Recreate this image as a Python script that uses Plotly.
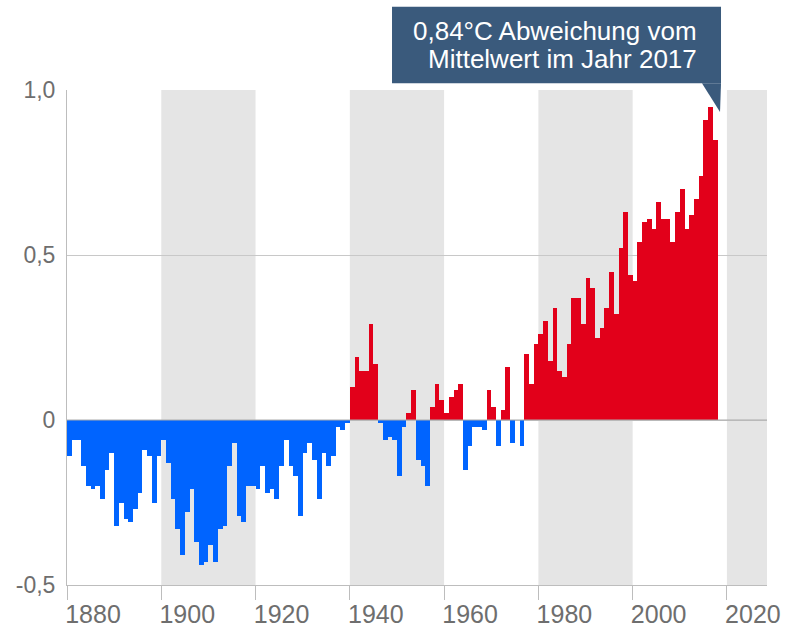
import plotly.graph_objects as go

# ---- data ----
years = list(range(1880, 2018))
anomaly = [
    # 1880-1899
    -0.11, -0.06, -0.06, -0.14, -0.20, -0.21, -0.20, -0.24, -0.15, -0.10,
    -0.32, -0.25, -0.30, -0.31, -0.27, -0.22, -0.09, -0.11, -0.25, -0.11,
    # 1900-1919
    -0.06, -0.13, -0.24, -0.33, -0.41, -0.28, -0.21, -0.37, -0.44, -0.43,
    -0.38, -0.43, -0.33, -0.32, -0.14, -0.07, -0.29, -0.31, -0.20, -0.20,
    # 1920-1939
    -0.21, -0.14, -0.22, -0.21, -0.24, -0.14, -0.06, -0.14, -0.17, -0.29,
    -0.10, -0.07, -0.12, -0.24, -0.10, -0.14, -0.11, -0.02, -0.03, -0.01,
    # 1940-1959
    0.10, 0.19, 0.15, 0.15, 0.29, 0.17, -0.01, -0.06, -0.05, -0.06,
    -0.17, -0.02, 0.02, 0.09, -0.12, -0.14, -0.20, 0.04, 0.11, 0.06,
    # 1960-1979
    0.02, 0.07, 0.09, 0.11, -0.15, -0.08, -0.02, -0.02, -0.03, 0.09,
    0.04, -0.08, 0.03, 0.16, -0.07, 0.00, -0.08, 0.20, 0.11, 0.23,
    # 1980-1999
    0.26, 0.30, 0.18, 0.34, 0.15, 0.13, 0.23, 0.37, 0.37, 0.29,
    0.43, 0.40, 0.25, 0.28, 0.34, 0.45, 0.32, 0.52, 0.63, 0.44,
    # 2000-2017
    0.42, 0.54, 0.60, 0.61, 0.58, 0.66, 0.61, 0.61, 0.54, 0.63,
    0.70, 0.58, 0.62, 0.67, 0.74, 0.91, 0.95, 0.85,
]
band_starts = [1900, 1940, 1980, 2020]
band_ends = [1920, 1960, 2000, 2028.5]
x_tick_vals = [1880, 1900, 1920, 1940, 1960, 1980, 2000, 2020]
y_tick_vals = [-0.5, 0, 0.5, 1.0]
y_tick_text = ["-0,5", "0", "0,5", "1,0"]
callout_lines = ["0,84°C Abweichung vom", "Mittelwert im Jahr 2017"]

# ---- styling ----
BLUE = "#0064ff"
RED = "#e2001a"
BAND = "#e5e5e5"
LINE = "#bdbdbd"
TICKTXT = "#6e6e6e"
BOX = "#3a5a7c"
FONT = "'Liberation Sans', Arial, sans-serif"

colors = [RED if v > 0 else BLUE for v in anomaly]

fig = go.Figure()
fig.add_trace(go.Bar(
    x=years, y=anomaly, width=1, offset=0,
    marker=dict(color=colors, line=dict(width=0)),
    hoverinfo="x+y", showlegend=False,
))

shapes = []
for s, e in zip(band_starts, band_ends):
    shapes.append(dict(type="rect", xref="x", yref="paper", x0=s, x1=e, y0=0, y1=1,
                       fillcolor=BAND, line=dict(width=0), layer="below"))
# zero line above bars
shapes.append(dict(type="line", xref="paper", yref="y", x0=0, x1=1, y0=0, y1=0,
                   line=dict(color="#aaaaaa", width=1), layer="above"))
# callout box and pointer
shapes.append(dict(type="rect", xref="paper", yref="paper",
                   x0=0.4643, x1=0.9343, y0=1.0135, y1=1.1683,
                   fillcolor=BOX, line=dict(width=0), layer="above"))
shapes.append(dict(type="path", xref="paper", yref="paper",
                   path="M 0.9071 1.0136 L 0.9343 1.0136 L 0.9329 0.9556 Z",
                   fillcolor=BOX, line=dict(width=0), layer="above"))

annotations = []
for txt, yp in zip(callout_lines, [1.1192, 1.0626]):
    annotations.append(dict(
        xref="paper", yref="paper", x=0.9029, y=yp,
        xanchor="right", yanchor="middle", align="right",
        text=txt, showarrow=False,
        font=dict(family=FONT, size=26, color="white"),
    ))

fig.update_layout(
    width=786, height=627,
    margin=dict(l=67, r=19, t=90, b=42, pad=0, autoexpand=False),
    plot_bgcolor="white", paper_bgcolor="white",
    bargap=0,
    font=dict(family=FONT),
    shapes=shapes,
    annotations=annotations,
    xaxis=dict(
        range=[1880, 2028.5], tickvals=x_tick_vals,
        showgrid=False, zeroline=False, automargin=False,
        showline=True, linecolor=LINE, linewidth=1,
        ticks="outside", ticklen=14, tickcolor=LINE, tickwidth=1,
        tickfont=dict(family=FONT, size=25, color=TICKTXT),
        ticklabelshift=26, ticklabelstandoff=-7,
    ),
    yaxis=dict(
        range=[-0.5, 1.0], tickvals=y_tick_vals, ticktext=y_tick_text,
        showgrid=True, gridcolor="#c8c8c8", gridwidth=1,
        zeroline=False, automargin=False,
        showline=True, linecolor=LINE, linewidth=1,
        ticks="", ticklabelstandoff=6,
        tickfont=dict(family=FONT, size=23, color=TICKTXT),
    ),
)

fig.write_html(
    "out.html",
    config={"displayModeBar": False},
    post_script="document.body.style.margin='0';document.body.style.padding='0';",
)
